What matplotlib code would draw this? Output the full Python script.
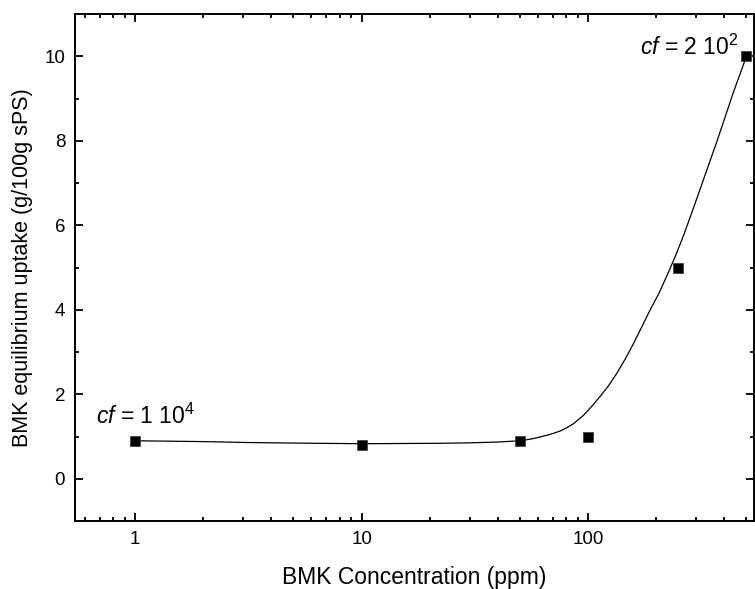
import matplotlib
matplotlib.use("Agg")
import matplotlib.pyplot as plt
from matplotlib.ticker import LogLocator, FixedLocator, NullFormatter

plt.rcParams['font.family'] = ['Liberation Sans', 'DejaVu Sans']
plt.rcParams['mathtext.fontset'] = 'custom'
plt.rcParams['mathtext.rm'] = 'Liberation Sans'
plt.rcParams['mathtext.it'] = 'Liberation Sans:italic'

# measured uptake
conc = [1, 10, 50, 100, 250, 500]
uptake = [0.9, 0.8, 0.9, 1.0, 5.0, 10.0]

# fitted model curve
fit_conc = [1, 2, 3, 5, 10, 22, 30, 40, 50, 56, 61.4, 68, 75.2, 80, 86, 95.3,
            104, 113, 123, 134, 146, 158.6, 172, 188, 205, 222.5, 242, 263.5,
            287, 312, 340, 370, 403, 438, 470, 500]
fit_uptake = [0.90, 0.88, 0.86, 0.845, 0.83, 0.84, 0.85, 0.87, 0.90, 0.94, 0.99,
              1.05, 1.13, 1.20, 1.30, 1.50, 1.72, 1.95, 2.2, 2.5, 2.84, 3.2,
              3.58, 4.0, 4.38, 4.8, 5.25, 5.75, 6.3, 6.85, 7.42, 7.98, 8.57,
              9.15, 9.6, 10.0]

fig = plt.figure(figsize=(7.55, 5.89), dpi=100)
ax = fig.add_axes([0.0993, 0.1154, 0.8994, 0.8608])

ax.plot(fit_conc, fit_uptake, color='black', lw=0.9)
ax.plot(conc, uptake, 's', color='black', ms=7.2, mec='#444444', mew=0.6)

ax.set_xscale('log')
ax.set_xlim(0.543, 540)
ax.set_ylim(-1, 11)

ax.xaxis.set_major_locator(FixedLocator([1, 10, 100]))
ax.set_xticklabels(['1', '10', '100'])
ax.xaxis.set_minor_locator(LogLocator(base=10, subs=range(2, 10)))
ax.xaxis.set_minor_formatter(NullFormatter())
ax.set_yticks([0, 2, 4, 6, 8, 10])
ax.yaxis.set_minor_locator(FixedLocator([-1, 1, 3, 5, 7, 9]))

ax.tick_params(which='both', direction='in', top=True, right=True, width=1.3,
               labelsize=13.5, pad=7)
ax.tick_params(which='major', length=6)
ax.tick_params(which='minor', length=3.2)
for s in ax.spines.values():
    s.set_linewidth(1.4)

ax.set_xlabel('BMK Concentration (ppm)', fontsize=16.5, labelpad=13)
ax.set_ylabel('BMK equilibrium uptake (g/100g sPS)', fontsize=15.5, labelpad=8)

ax.text(0.673, 1.31, r'$\it{cf}$ = 1 10$^{4}$', fontsize=16.5, ha='left', va='baseline')
ax.text(464, 10.04, r'$\it{cf}$ = 2 10$^{2}$', fontsize=16.5, ha='right', va='baseline')

fig.savefig('out.png', dpi=100)
